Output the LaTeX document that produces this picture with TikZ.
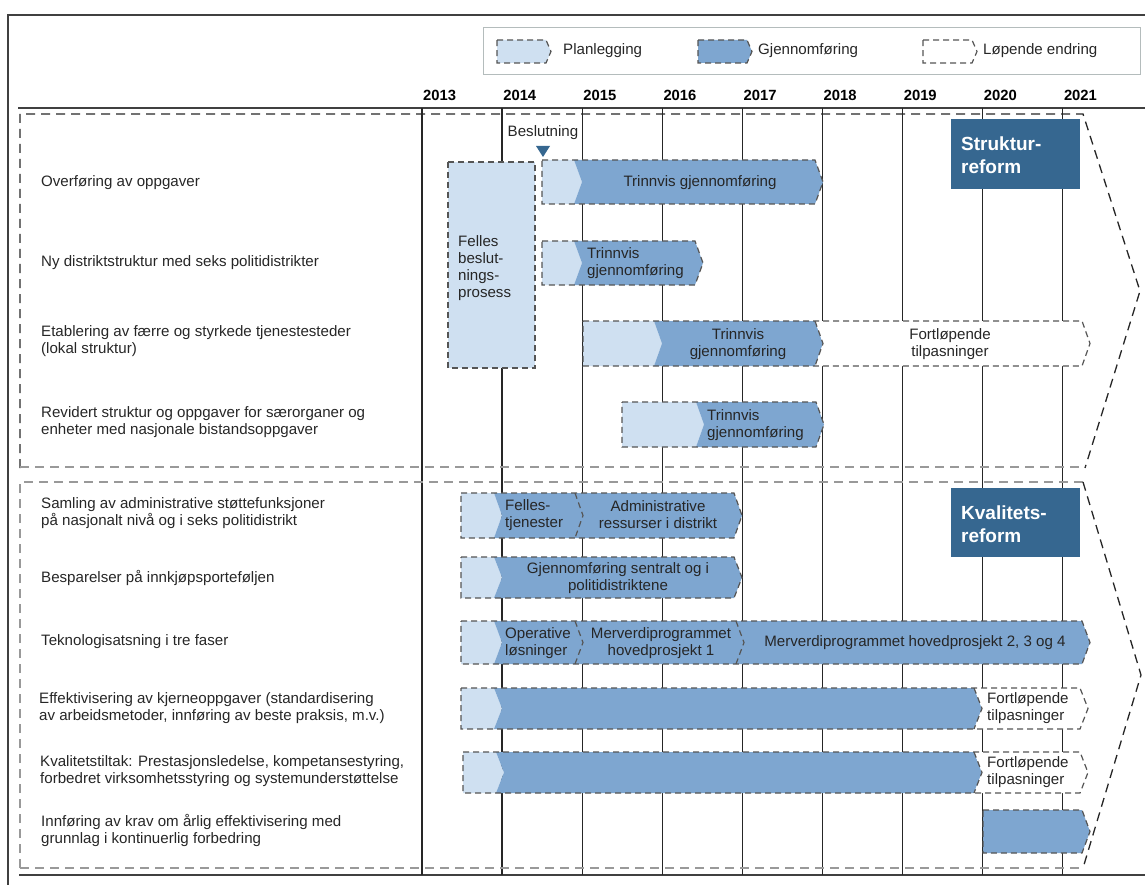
\documentclass[tikz,border=0pt]{standalone}
\usepackage{fontspec}
\setmainfont{Liberation Sans}
\definecolor{planc}{HTML}{CFE0F1}
\definecolor{implc}{HTML}{7EA6D0}
\definecolor{darkc}{HTML}{366790}
\definecolor{dashc}{HTML}{555555}
\definecolor{secgray}{HTML}{999999}
\definecolor{txt}{HTML}{262626}
\definecolor{legc}{HTML}{B4BCBC}
\newcommand{\segshape}[7]{%
 \pgfmathsetmacro\cvYm{(#4+#5)/2}%
 \pgfmathsetmacro\cvXr{#3-#7}%
 \pgfmathsetmacro\cvXl{#2+#6*#7}%
 \path[#1] (#2,#4) -- (\cvXr,#4) -- (#3,\cvYm) -- (\cvXr,#5) -- (#2,#5) -- (\cvXl,\cvYm) -- cycle;}
\newcommand{\innerchev}[3]{%
 \pgfmathsetmacro\cvYm{(#2+#3)/2}%
 \pgfmathsetmacro\cvXt{#1+8}%
 \draw[outl] (#1,#2) -- (\cvXt,\cvYm) -- (#1,#3);}
\tikzset{
 txtfont/.style={font=\fontsize{15.1}{17}\selectfont},
 lbl/.style={txtfont, anchor=west, align=left, text=txt, inner sep=0pt},
 btxt/.style={txtfont, align=center, text=txt, inner sep=0pt},
 btxtl/.style={txtfont, align=left, anchor=west, text=txt, inner sep=0pt},
 yr/.style={font=\fontsize{14.8}{17}\selectfont\bfseries, anchor=west, inner sep=0pt},
 plan/.style={fill=planc},
 impl/.style={fill=implc},
 cont/.style={fill=white},
 outl/.style={draw=dashc, dash pattern=on 6pt off 4pt, line width=1.2pt},
 secblack/.style={draw=black!85, dash pattern=on 9pt off 6pt, line width=1.3pt},
 secgr/.style={draw=secgray, dash pattern=on 9pt off 6pt, line width=1.6pt},
 gridline/.style={draw=black!85, line width=1.3pt},
 frame/.style={draw=black!75, line width=1.6pt},
 reform/.style={fill=darkc, draw=none},
 reftxt/.style={font=\fontsize{19}{23}\selectfont\bfseries, text=white, align=left, anchor=west, inner sep=0pt},
}
\begin{document}
\begin{tikzpicture}[x=1pt,y=-1pt]
\useasboundingbox (0,0) rectangle (1145,885);
% frame
\draw[frame] (1145,15) -- (8,15) -- (8,885);
\draw[frame] (18,108) -- (1145,108);
\draw[frame] (19,875) -- (1145,875);
% legend
\draw[draw=legc, line width=1pt] (483,28) rectangle (1140,75);
\segshape{plan}{497}{551}{40}{63}{0}{5}
\segshape{outl}{497}{551}{40}{63}{0}{5}
\node[lbl] (legplan) at (563,51) {Planlegging};
\segshape{impl}{698}{752}{40}{63}{0}{5}
\segshape{outl}{698}{752}{40}{63}{0}{5}
\node[lbl] (legimpl) at (758,51) {Gjennomføring};
\segshape{cont}{923}{977}{40}{63}{0}{5}
\segshape{outl}{923}{977}{40}{63}{0}{5}
\node[lbl] (legcont) at (983,51) {Løpende endring};
% years and grid
\foreach \i/\y in {0/2013,1/2014,2/2015,3/2016,4/2017,5/2018,6/2019,7/2020,8/2021}{
  \pgfmathsetmacro\gx{422+80.1*\i}
  \draw[gridline] (\gx,108) -- (\gx,875);
  \node[yr] (yr\y) at (\gx+1,95) {\y};
}
% section boxes
\draw[secblack] (20,468) -- (20,114) -- (1083,114) -- (1140,291) -- (1085,468);
\draw[secgr] (20,467) -- (1085,467);
\draw[secgr] (20,868) -- (20,482) -- (1083,482);
\draw[secblack] (1083,482) -- (1141,675) -- (1083,868);
\draw[secgr] (20,868) -- (1083,868);
% ---------- Strukturreform ----------
\node[lbl] (s1) at (41,183) {Overføring av oppgaver};
\node[lbl] (s2) at (41,263) {Ny distriktstruktur med seks politidistrikter};
\node[lbl] (s3) at (41,341) {Etablering av færre og styrkede tjenestesteder\\(lokal struktur)};
\node[lbl] (s4) at (41,422) {Revidert struktur og oppgaver for særorganer og\\enheter med nasjonale bistandsoppgaver};
% Felles beslutningsprosess
\path[plan] (448,162) rectangle (535,368);
\draw[outl] (448,162) rectangle (535,368);
\node[btxtl] (felles) at (458,268) {Felles\\beslut-\\nings-\\prosess};
% Beslutning
\node[btxt] (beslutning) at (543,133) {Beslutning};
\fill[darkc] (536,146) -- (550,146) -- (543,157) -- cycle;
% row S1
\segshape{plan}{542}{582}{160}{204}{0}{8}
\segshape{impl}{574}{823}{160}{204}{1}{8}
\segshape{outl}{542}{823}{160}{204}{0}{8}
\node[btxt] (s1t) at (700,183) {Trinnvis gjennomføring};
% row S2
\segshape{plan}{542}{582}{241}{285}{0}{8}
\segshape{impl}{574}{703}{241}{285}{1}{8}
\segshape{outl}{542}{703}{241}{285}{0}{8}
\node[btxtl] (s2t) at (587,263) {Trinnvis\\gjennomføring};
% row S3
\segshape{plan}{583}{662}{321}{366}{0}{8}
\segshape{impl}{654}{823}{321}{366}{1}{8}
\segshape{cont}{815}{1090}{321}{366}{1}{8}
\segshape{outl}{583}{1090}{321}{366}{0}{8}
\innerchev{815}{321}{366}
\node[btxt] (s3t) at (738,344) {Trinnvis\\gjennomføring};
\node[btxt] (s3f) at (950,344) {Fortløpende\\tilpasninger};
% row S4
\segshape{plan}{622}{704}{402}{447}{0}{8}
\segshape{impl}{696}{824}{402}{447}{1}{8}
\segshape{outl}{622}{824}{402}{447}{0}{8}
\node[btxtl] (s4t) at (707,425) {Trinnvis\\gjennomføring};
% reform label
\path[reform] (951,119) rectangle (1080,189);
\node[reftxt] (struktur) at (961,155) {Struktur-\\reform};
% ---------- Kvalitetsreform ----------
\node[lbl] (k1) at (41,513) {Samling av administrative støttefunksjoner\\på nasjonalt nivå og i seks politidistrikt};
\node[lbl] (k2) at (41,578) {Besparelser på innkjøpsporteføljen};
\node[lbl] (k3) at (41,642) {Teknologisatsning i tre faser};
\node[lbl] (k4) at (39,708) {Effektivisering av kjerneoppgaver (standardisering\\av arbeidsmetoder, innføring av beste praksis, m.v.)};
\node[lbl] (k5) at (40,771) {Kvalitetstiltak: Prestasjonsledelse, kompetansestyring,\\forbedret virksomhetsstyring og systemunderstøttelse};
\node[lbl] (k6) at (41,830) {Innføring av krav om årlig effektivisering med\\grunnlag i kontinuerlig forbedring};
% row K1
\segshape{plan}{461}{502}{493}{538}{0}{8}
\segshape{impl}{494}{742}{493}{538}{1}{8}
\segshape{outl}{461}{742}{493}{538}{0}{8}
\innerchev{575}{493}{538}
\node[btxtl] (k1a) at (505,515) {Felles-\\tjenester};
\node[btxt] (k1b) at (658,515) {Administrative\\ressurser i distrikt};
% row K2
\segshape{plan}{461}{502}{557}{598}{0}{8}
\segshape{impl}{494}{742}{557}{598}{1}{8}
\segshape{outl}{461}{742}{557}{598}{0}{8}
\node[btxt] (k2a) at (618,578) {Gjennomføring sentralt og i\\politidistriktene};
% row K3
\segshape{plan}{461}{502}{621}{664}{0}{8}
\segshape{impl}{494}{1090}{621}{664}{1}{8}
\segshape{outl}{461}{1090}{621}{664}{0}{8}
\innerchev{575}{621}{664}
\innerchev{736}{621}{664}
\node[btxtl] (k3a) at (505,643) {Operative\\løsninger};
\node[btxt] (k3b) at (661,643) {Merverdiprogrammet\\hovedprosjekt 1};
\node[btxt] (k3c) at (915,643) {Merverdiprogrammet hovedprosjekt 2, 3 og 4};
% row K4
\segshape{plan}{461}{502}{688}{729}{0}{8}
\segshape{impl}{494}{982}{688}{729}{1}{8}
\segshape{cont}{974}{1088}{688}{729}{1}{8}
\segshape{outl}{461}{1088}{688}{729}{0}{8}
\innerchev{974}{688}{729}
\node[btxtl] (k4a) at (987,708) {Fortløpende\\tilpasninger};
% row K5
\segshape{plan}{463}{504}{752}{793}{0}{8}
\segshape{impl}{496}{982}{752}{793}{1}{8}
\segshape{cont}{974}{1088}{752}{793}{1}{8}
\segshape{outl}{463}{1088}{752}{793}{0}{8}
\innerchev{974}{752}{793}
\node[btxtl] (k5a) at (987,772) {Fortløpende\\tilpasninger};
% row K6
\segshape{impl}{983}{1090}{810}{853}{0}{8}
\segshape{outl}{983}{1090}{810}{853}{0}{8}
% reform label
\path[reform] (951,488) rectangle (1080,557);
\node[reftxt] (kvalitet) at (961,524) {Kvalitets-\\reform};
\end{tikzpicture}
\end{document}
